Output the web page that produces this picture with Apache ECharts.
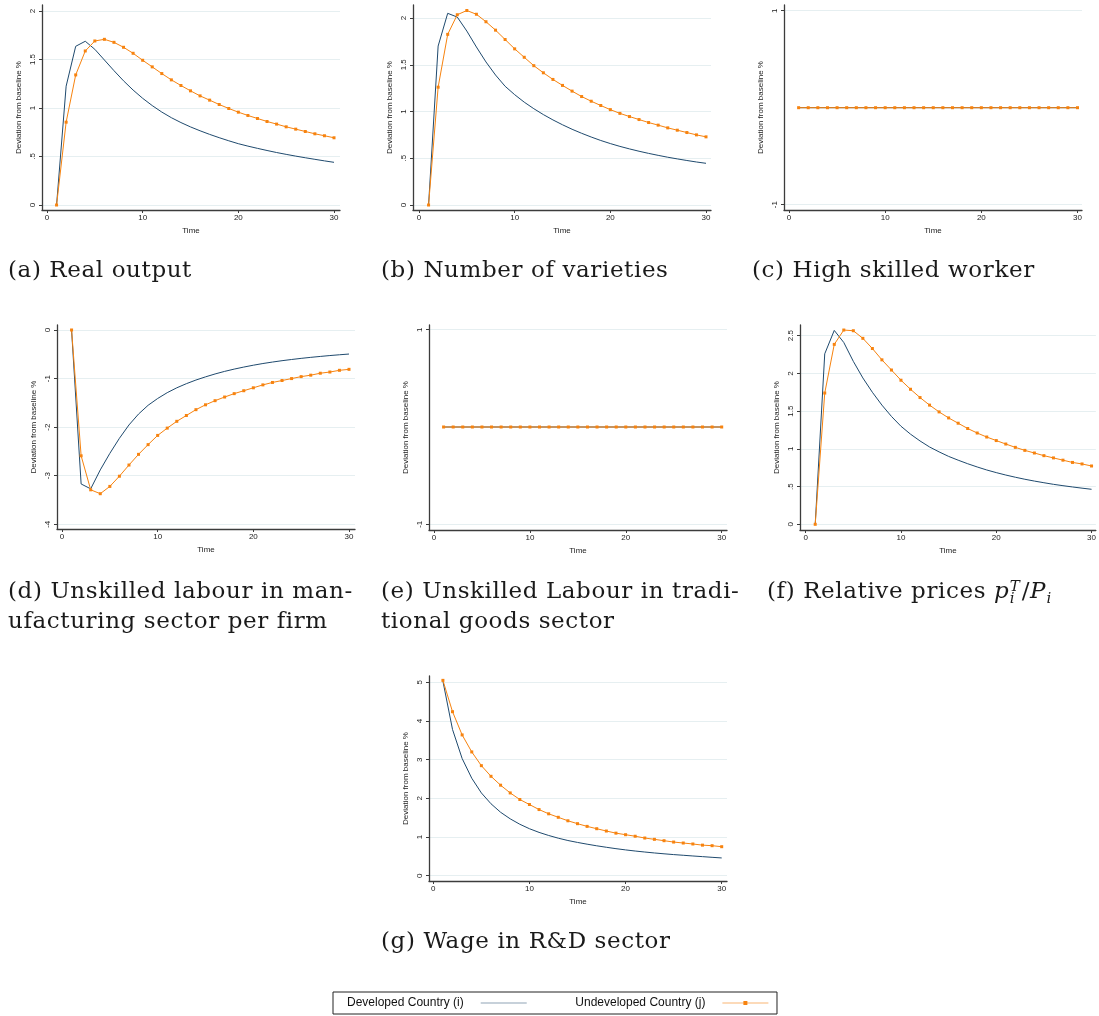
<!DOCTYPE html>
<html>
<head>
<meta charset="utf-8">
<title>Impulse responses</title>
<script src="https://cdn.jsdelivr.net/npm/echarts@6/dist/echarts.min.js"></script>
<style>
  html, body { margin: 0; padding: 0; background: #fff; }
  #main { position: absolute; left: 0; top: 0; width: 1099px; height: 1016px; }
  .cap {
    position: absolute;
    font-family: "DejaVu Serif", serif;
    font-size: 23px;
    letter-spacing: 0.6px;
    line-height: 30px;
    color: #1a1a1a;
    white-space: nowrap;
  }
  .m { font-style: italic; letter-spacing: 0; }
  .ss { display: inline-block; vertical-align: middle; line-height: 12px; font-size: 15px; font-style: italic; margin: 0 2px 0 1px; letter-spacing: 0; }
  .ss span { display: block; }
</style>
</head>
<body>
<div id="main"></div>
<div class="cap" style="left:8px;top:254px">(a) Real output</div>
<div class="cap" style="left:381px;top:254px">(b) Number of varieties</div>
<div class="cap" style="left:752px;top:254px">(c) High skilled worker</div>
<div class="cap" style="left:8px;top:575px">(d) Unskilled labour in man-<br>ufacturing sector per firm</div>
<div class="cap" style="left:381px;top:575px">(e) Unskilled Labour in tradi-<br>tional goods sector</div>
<div class="cap" style="left:767px;top:575px">(f) Relative prices <span class="m">p</span><span class="ss"><span>T</span><span>i</span></span>/<span class="m">P</span><span class="ss"><span>&nbsp;</span><span>i</span></span></div>
<div class="cap" style="left:381px;top:925px">(g) Wage in R&amp;D sector</div>
<script>
// time periods
const time = [1, 2, 3, 4, 5, 6, 7, 8, 9, 10, 11, 12, 13, 14, 15, 16, 17, 18, 19, 20, 21, 22, 23, 24, 25, 26, 27, 28, 29, 30];

// (a) real output
const outputDev = [0, 1.225, 1.636, 1.688, 1.605, 1.495, 1.385, 1.28, 1.185, 1.10, 1.025, 0.958, 0.90, 0.85, 0.805,
  0.765, 0.728, 0.694, 0.662, 0.632, 0.607, 0.584, 0.562, 0.541, 0.522, 0.504, 0.487, 0.471, 0.455, 0.44];
const outputUnd = [0, 0.854, 1.341, 1.588, 1.691, 1.708, 1.677, 1.626, 1.564, 1.492, 1.424, 1.355, 1.29, 1.232, 1.177,
  1.125, 1.081, 1.036, 0.995, 0.957, 0.923, 0.892, 0.861, 0.834, 0.806, 0.782, 0.758, 0.734, 0.714, 0.693];

// (b) number of varieties
const varietyDev = [0, 1.70, 2.05, 2.01, 1.86, 1.69, 1.53, 1.39, 1.27, 1.18, 1.10, 1.03, 0.967, 0.91, 0.858,
  0.81, 0.767, 0.727, 0.69, 0.657, 0.627, 0.60, 0.575, 0.552, 0.531, 0.511, 0.493, 0.476, 0.46, 0.446];
const varietyUnd = [0, 1.26, 1.825, 2.035, 2.08, 2.04, 1.96, 1.87, 1.77, 1.67, 1.58, 1.49, 1.414, 1.343, 1.279,
  1.218, 1.16, 1.11, 1.064, 1.02, 0.98, 0.946, 0.914, 0.882, 0.854, 0.825, 0.80, 0.775, 0.75, 0.729];

// (c) high skilled worker
const skilledDev = [0, 0, 0, 0, 0, 0, 0, 0, 0, 0, 0, 0, 0, 0, 0, 0, 0, 0, 0, 0, 0, 0, 0, 0, 0, 0, 0, 0, 0, 0];
const skilledUnd = [0, 0, 0, 0, 0, 0, 0, 0, 0, 0, 0, 0, 0, 0, 0, 0, 0, 0, 0, 0, 0, 0, 0, 0, 0, 0, 0, 0, 0, 0];

// (d) unskilled labour in manufacturing per firm
const manufDev = [0, -3.17, -3.27, -2.88, -2.54, -2.23, -1.955, -1.73, -1.55, -1.41, -1.29, -1.19, -1.105, -1.03, -0.965,
  -0.905, -0.852, -0.805, -0.763, -0.725, -0.69, -0.66, -0.632, -0.607, -0.584, -0.563, -0.544, -0.526, -0.51, -0.495];
const manufUnd = [0, -2.59, -3.29, -3.37, -3.22, -3.01, -2.78, -2.56, -2.36, -2.17, -2.02, -1.88, -1.76, -1.64, -1.54,
  -1.455, -1.38, -1.31, -1.25, -1.19, -1.13, -1.08, -1.04, -1.00, -0.96, -0.93, -0.89, -0.865, -0.83, -0.81];

// (e) unskilled labour in traditional goods
const tradDev = [0, 0, 0, 0, 0, 0, 0, 0, 0, 0, 0, 0, 0, 0, 0, 0, 0, 0, 0, 0, 0, 0, 0, 0, 0, 0, 0, 0, 0, 0];
const tradUnd = [0, 0, 0, 0, 0, 0, 0, 0, 0, 0, 0, 0, 0, 0, 0, 0, 0, 0, 0, 0, 0, 0, 0, 0, 0, 0, 0, 0, 0, 0];

// (f) relative prices
const priceDev = [0, 2.26, 2.57, 2.41, 2.16, 1.94, 1.75, 1.58, 1.43, 1.30, 1.195, 1.105, 1.025, 0.96, 0.90,
  0.85, 0.803, 0.76, 0.72, 0.685, 0.653, 0.624, 0.597, 0.573, 0.551, 0.53, 0.512, 0.495, 0.479, 0.464];
const priceUnd = [0, 1.74, 2.385, 2.575, 2.566, 2.465, 2.33, 2.18, 2.045, 1.91, 1.79, 1.68, 1.58, 1.49, 1.41,
  1.34, 1.27, 1.21, 1.157, 1.11, 1.064, 1.02, 0.98, 0.945, 0.91, 0.88, 0.85, 0.82, 0.80, 0.773];

// (g) wage in R&D sector
const wageDev = [5.03, 3.78, 3.03, 2.52, 2.14, 1.86, 1.64, 1.47, 1.33, 1.215, 1.12, 1.04, 0.97, 0.91, 0.86,
  0.815, 0.773, 0.735, 0.699, 0.667, 0.638, 0.612, 0.588, 0.566, 0.546, 0.528, 0.51, 0.493, 0.475, 0.459];
const wageUnd = [5.05, 4.24, 3.64, 3.20, 2.845, 2.57, 2.34, 2.14, 1.97, 1.84, 1.71, 1.60, 1.51, 1.42, 1.345,
  1.275, 1.215, 1.155, 1.10, 1.06, 1.02, 0.974, 0.94, 0.905, 0.87, 0.845, 0.82, 0.79, 0.776, 0.75];

const xTicks = [0, 10, 20, 30];

// panel layout: plot box in px, pixel position of two reference ticks on each axis
const panels = [
  { dev: outputDev, und: outputUnd, yTicks: [0, 0.5, 1, 1.5, 2], L: 42, R: 340, T: 5, B: 210, x0: 47, x30: 334, yHi: [2, 11], yLo: [0, 205] },
  { dev: varietyDev, und: varietyUnd, yTicks: [0, 0.5, 1, 1.5, 2], L: 413, R: 711, T: 5, B: 210, x0: 419, x30: 706, yHi: [2, 18], yLo: [0, 205] },
  { dev: skilledDev, und: skilledUnd, yTicks: [-1, 1], L: 784, R: 1082, T: 5, B: 210, x0: 789, x30: 1077.5, yHi: [1, 10.7], yLo: [-1, 204.7] },
  { dev: manufDev, und: manufUnd, yTicks: [-4, -3, -2, -1, 0], L: 57, R: 355, T: 325, B: 529, x0: 62, x30: 349, yHi: [0, 330], yLo: [-4, 524.3] },
  { dev: tradDev, und: tradUnd, yTicks: [-1, 1], L: 429, R: 727, T: 325, B: 530, x0: 434, x30: 721.7, yHi: [1, 329.7], yLo: [-1, 524.3] },
  { dev: priceDev, und: priceUnd, yTicks: [0, 0.5, 1, 1.5, 2, 2.5], L: 800, R: 1097, T: 325, B: 530, x0: 805.7, x30: 1092.7, yHi: [2.5, 335.7], yLo: [0, 524.3] },
  { dev: wageDev, und: wageUnd, yTicks: [0, 1, 2, 3, 4, 5], L: 429, R: 727, T: 676, B: 881, x0: 433.3, x30: 721.7, yHi: [5, 682.3], yLo: [0, 875.7] }
];

const BLUE = "#1f4a6e";
const ORANGE = "#f7830f";
const AXIS = "#3c3c3c";
const GRID = "#e6eff1";
const FONT = "Liberation Sans, Arial, sans-serif";

function fmt(v) {
  return String(v).replace(/^0\./, ".").replace(/^-0\./, "-.");
}

const grids = [], xAxes = [], yAxes = [], series = [];

panels.forEach((p, i) => {
  grids.push({ left: p.L, top: p.T, width: p.R - p.L, height: p.B - p.T, containLabel: false });

  const kx = (p.x30 - p.x0) / 30;
  const ky = (p.yLo[1] - p.yHi[1]) / (p.yHi[0] - p.yLo[0]);
  xAxes.push({
    type: "value",
    gridIndex: i,
    min: (p.L - p.x0) / kx,
    max: 30 + (p.R - p.x30) / kx,
    name: "Time",
    nameLocation: "middle",
    nameGap: 17,
    nameTextStyle: { fontFamily: FONT, fontSize: 8, color: "#222" },
    axisLine: { onZero: false, lineStyle: { color: AXIS, width: 1.3 } },
    axisTick: { show: true, length: 3, customValues: xTicks, lineStyle: { color: AXIS } },
    axisLabel: { customValues: xTicks, fontFamily: FONT, fontSize: 8, color: "#222", margin: 4, formatter: fmt },
    splitLine: { show: false }
  });
  yAxes.push({
    type: "value",
    gridIndex: i,
    min: p.yLo[0] - (p.B - p.yLo[1]) / ky,
    max: p.yHi[0] + (p.yHi[1] - p.T) / ky,
    name: "Deviation from baseline %",
    nameLocation: "middle",
    nameRotate: 90,
    nameGap: 19,
    nameTextStyle: { fontFamily: FONT, fontSize: 8, color: "#222" },
    axisLine: { onZero: false, lineStyle: { color: AXIS, width: 1.3 } },
    axisTick: { show: true, length: 3, customValues: p.yTicks, lineStyle: { color: AXIS } },
    axisLabel: { customValues: p.yTicks, rotate: 90, fontFamily: FONT, fontSize: 8, color: "#222", margin: 5, formatter: fmt },
    splitLine: { show: true, lineStyle: { color: GRID, width: 1 } }
  });

  series.push({
    name: "Developed Country (i)",
    type: "line",
    xAxisIndex: i,
    yAxisIndex: i,
    symbol: "none",
    lineStyle: { color: BLUE, width: 1 },
    itemStyle: { color: BLUE },
    data: time.map((t, k) => [t, p.dev[k]])
  });
  series.push({
    name: "Undeveloped Country (j)",
    type: "line",
    xAxisIndex: i,
    yAxisIndex: i,
    symbol: "rect",
    symbolSize: 3,
    lineStyle: { color: ORANGE, width: 1 },
    itemStyle: { color: ORANGE },
    data: time.map((t, k) => [t, p.und[k]])
  });
});

const chart = echarts.init(document.getElementById("main"));
chart.setOption({
  animation: false,
  backgroundColor: "#fff",
  grid: grids,
  xAxis: xAxes,
  yAxis: yAxes,
  series: series,
  legend: {
    left: 333,
    top: 992,
    align: "right",
    selectedMode: false,
    borderColor: "#222",
    borderWidth: 1,
    padding: [5, 8, 5, 14],
    itemGap: 48,
    itemWidth: 46,
    itemHeight: 5,
    textStyle: { fontFamily: FONT, fontSize: 12, color: "#111", padding: [0, 12, 0, 0] },
    data: [
      { name: "Developed Country (i)", itemStyle: { opacity: 0 }, lineStyle: { color: "#8fa3b5", width: 1.2 } },
      { name: "Undeveloped Country (j)", lineStyle: { color: "#f9b574", width: 1.2 } }
    ]
  }
});
</script>
</body>
</html>
